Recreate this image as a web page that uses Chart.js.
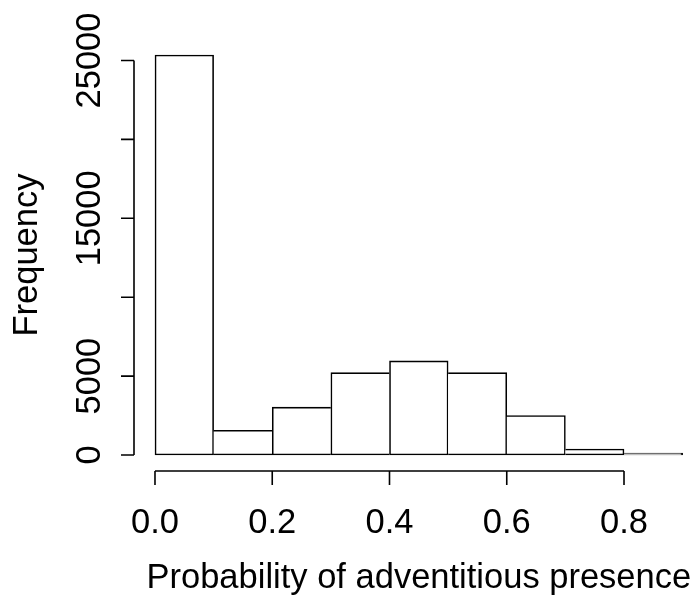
<!DOCTYPE html>
<html>
<head>
<meta charset="utf-8">
<script src="https://cdn.jsdelivr.net/npm/chart.js@4.4.0/dist/chart.umd.min.js"></script>
<style>
  html, body { margin: 0; padding: 0; background: #ffffff; }
  #wrap { width: 696px; height: 605px; }
</style>
</head>
<body>
<div id="wrap"><canvas id="c" width="696" height="605"></canvas></div>
<script>
// ---- data ----
const binStarts = [0.0, 0.1, 0.2, 0.3, 0.4, 0.5, 0.6, 0.7, 0.8];
const binWidth = 0.1;
const counts = [25350, 1570, 3030, 5220, 5960, 5220, 2500, 380, 120];
const xTicks = [0.0, 0.2, 0.4, 0.6, 0.8];
const xTickLabels = ["0.0", "0.2", "0.4", "0.6", "0.8"];
const yTicks = [0, 5000, 10000, 15000, 20000, 25000];
const yTickLabels = ["0", "5000", "", "15000", "", "25000"];
const xTitle = "Probability of adventitious presence";
const yTitle = "Frequency";

const FONT = '34.5px "Liberation Sans", Arial, Helvetica, sans-serif';
const LW = 1.6;

const points = binStarts.map((s, i) => ({ x: s + binWidth / 2, y: counts[i] }));

function edgeWidths(ctx) {
  const i = ctx.dataIndex;
  const cur = counts[i];
  const prev = i > 0 ? counts[i - 1] : -Infinity;
  const next = i < counts.length - 1 ? counts[i + 1] : -Infinity;
  return {
    top: LW,
    bottom: LW,
    left: (i === 0 || prev < cur) ? LW : 0,
    right: (i === counts.length - 1 || next <= cur) ? LW : 0
  };
}

const axesPlugin = {
  id: 'rAxes',
  afterDraw(chart) {
    const ctx = chart.ctx;
    const xs = chart.scales.x, ys = chart.scales.y;
    const area = chart.chartArea;
    ctx.save();
    ctx.strokeStyle = '#000';
    ctx.fillStyle = '#000';
    ctx.lineWidth = LW;
    ctx.font = FONT;

    // y axis
    const axX = area.left;
    ctx.beginPath();
    ctx.moveTo(axX, ys.getPixelForValue(yTicks[0]));
    ctx.lineTo(axX, ys.getPixelForValue(yTicks[yTicks.length - 1]));
    yTicks.forEach(v => {
      const py = ys.getPixelForValue(v);
      ctx.moveTo(axX, py);
      ctx.lineTo(axX - 13, py);
    });
    ctx.stroke();
    yTicks.forEach((v, i) => {
      if (!yTickLabels[i]) return;
      const py = ys.getPixelForValue(v);
      ctx.save();
      ctx.translate(100, py);
      ctx.rotate(-Math.PI / 2);
      ctx.textAlign = 'center';
      ctx.textBaseline = 'alphabetic';
      ctx.fillText(yTickLabels[i], 0, 0);
      ctx.restore();
    });

    // x axis
    const axY = area.bottom;
    ctx.beginPath();
    ctx.moveTo(xs.getPixelForValue(xTicks[0]), axY);
    ctx.lineTo(xs.getPixelForValue(xTicks[xTicks.length - 1]), axY);
    xTicks.forEach(v => {
      const px = xs.getPixelForValue(v);
      ctx.moveTo(px, axY);
      ctx.lineTo(px, axY + 14);
    });
    ctx.stroke();
    ctx.textAlign = 'center';
    ctx.textBaseline = 'alphabetic';
    xTicks.forEach((v, i) => {
      ctx.fillText(xTickLabels[i], xs.getPixelForValue(v), 533);
    });

    // titles
    ctx.fillText(xTitle, xs.getPixelForValue(0.45), 588);
    ctx.save();
    ctx.translate(37, ys.getPixelForValue(12674));
    ctx.rotate(-Math.PI / 2);
    ctx.fillText(yTitle, 0, 0);
    ctx.restore();

    ctx.restore();
  }
};

new Chart(document.getElementById('c'), {
  type: 'bar',
  data: {
    datasets: [{
      data: points,
      backgroundColor: '#ffffff',
      borderColor: '#000000',
      borderWidth: edgeWidths,
      borderSkipped: false,
      barPercentage: 1.0,
      categoryPercentage: 1.0
    }]
  },
  options: {
    responsive: false,
    animation: false,
    devicePixelRatio: 1,
    layout: { padding: { left: 134, top: 39, right: 0, bottom: 134 } },
    plugins: { legend: { display: false }, tooltip: { enabled: false }, title: { display: false } },
    scales: {
      x: { type: 'linear', min: -0.0358, max: 0.9228, display: false, offset: false },
      y: { type: 'linear', min: -1014, max: 26362, display: false }
    }
  },
  plugins: [axesPlugin]
});
</script>
</body>
</html>
